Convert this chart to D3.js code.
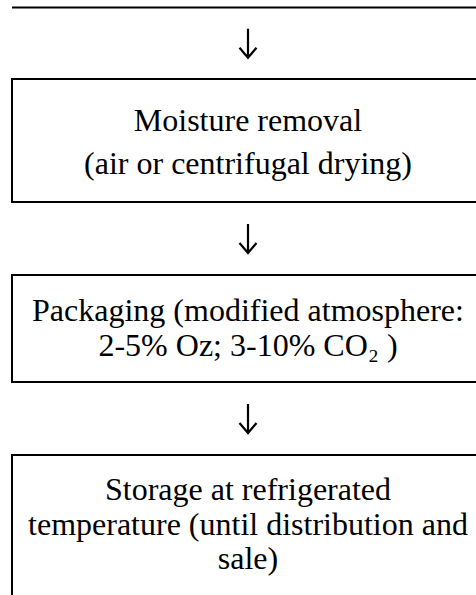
<!DOCTYPE html>
<html>
<head>
<meta charset="utf-8">
<script src="https://cdn.jsdelivr.net/npm/d3@7"></script>
<style>
  html, body { margin: 0; padding: 0; background: #fff; overflow: hidden; }
  text { font-family: "Liberation Serif", "Times New Roman", serif; fill: #000; }
</style>
</head>
<body>
<script>
'use strict';

// flow steps (the first box is cut off above the picture)
const stepNames = ["moisture", "packaging", "storage"];
const stepLines = [
  ["Moisture removal", "(air or centrifugal drying)"],
  ["Packaging (modified atmosphere:", "2-5% Oz; 3-10% CO\u2082 )"],
  ["Storage at refrigerated", "temperature (until distribution and", "sale)"]
];

(function() {
  const width = 476, height = 595;
  const svg = d3.select('body').append('svg')
    .attr('width', width)
    .attr('height', height);

  // box layout
  const boxLeft = 12, boxRight = 500;
  const boxTop = {moisture: 79, packaging: 275, storage: 455};
  const boxBottom = {moisture: 202, packaging: 382, storage: 640};
  const firstBase = {moisture: 131, packaging: 321, storage: 500};
  const lineGap = {moisture: 43, packaging: 35, storage: 34.5};
  const cx = 248;

  // bottom edge of the previous box
  svg.append('line')
    .attr('x1', boxLeft).attr('x2', boxRight)
    .attr('y1', 7.5).attr('y2', 7.5)
    .attr('stroke', '#000').attr('stroke-width', 2);

  stepNames.forEach(function(name, i) {
    svg.append('rect')
      .attr('x', boxLeft)
      .attr('y', boxTop[name])
      .attr('width', boxRight - boxLeft)
      .attr('height', boxBottom[name] - boxTop[name])
      .attr('fill', 'none')
      .attr('stroke', '#000')
      .attr('stroke-width', 2);

    svg.selectAll('.t' + i)
      .data(stepLines[i])
      .enter()
      .append('text')
      .attr('class', 't' + i)
      .attr('x', cx)
      .attr('y', (d, j) => firstBase[name] + j * lineGap[name])
      .attr('text-anchor', 'middle')
      .style('font-size', '32px')
      .text(d => d);

    // arrow in the gap above each box
    let above = i === 0 ? 7.5 : boxBottom[stepNames[i - 1]];
    let mid = (above + boxTop[name]) / 2;
    let y0 = mid - 14.5, y1 = mid + 14.5;
    svg.append('path')
      .attr('d', 'M' + cx + ',' + y0 + 'V' + y1 +
        'M' + (cx - 8.5) + ',' + (y1 - 10) + 'L' + cx + ',' + y1 + 'L' + (cx + 8.5) + ',' + (y1 - 10))
      .attr('fill', 'none')
      .attr('stroke', '#000')
      .attr('stroke-width', 2.2);
  });
})();
</script>
</body>
</html>
